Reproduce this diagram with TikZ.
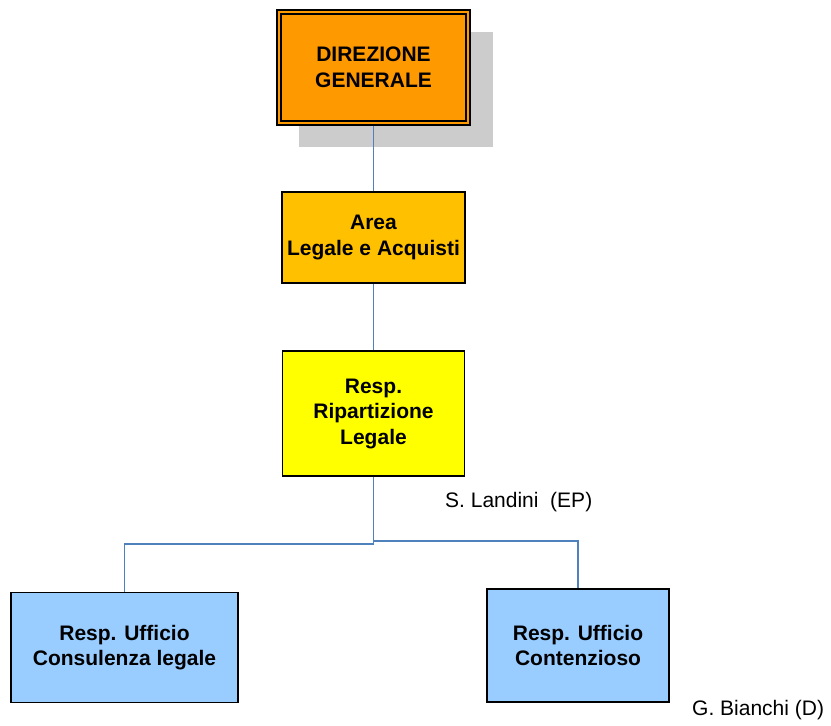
\documentclass[tikz,border=0pt]{standalone}
\usepackage{fontspec}
\setmainfont{Liberation Sans}
\definecolor{dgorange}{HTML}{FF9900}
\definecolor{areaorange}{HTML}{FFC000}
\definecolor{repyellow}{HTML}{FFFF00}
\definecolor{uffblue}{HTML}{99CCFF}
\definecolor{shadowgray}{HTML}{CCCCCC}
\definecolor{linkblue}{HTML}{4F81BD}
\begin{document}
\begin{tikzpicture}[x=1pt,y=-1pt,
  box/.style={draw=black, line width=1.6pt, inner sep=0pt, align=center,
    font=\fontsize{21}{25.5}\selectfont\bfseries},
  link/.style={draw=linkblue, line width=1.8pt},
  person/.style={inner sep=0pt, anchor=base west, font=\fontsize{21}{25}\selectfont}]
\useasboundingbox (0,0) rectangle (831,726);
% shadow
\fill[shadowgray] (299,32) rectangle (493,147);
% nodes
\node[box, fill=dgorange, line width=2pt, minimum width=193pt, minimum height=115pt] (dg) at (373.5,67.5) {DIREZIONE\\GENERALE};
\draw[line width=1.5pt] ([shift={(5,5)}]dg.north west) rectangle ([shift={(-5,-5)}]dg.south east);
\node[box, fill=areaorange, minimum width=183pt, minimum height=91pt] (area) at (373.5,237.5) {Area\\Legale e Acquisti};
\node[box, fill=repyellow, minimum width=182pt, minimum height=125pt] (rip) at (373.5,413.5) {Resp.\\Ripartizione\\Legale};
\node[box, fill=uffblue, minimum width=227pt, minimum height=110pt] (cons) at (124.5,647.5) {Resp. Ufficio\\Consulenza legale};
\node[box, fill=uffblue, minimum width=182pt, minimum height=113pt] (cont) at (578,645.5) {Resp. Ufficio\\Contenzioso};
% connectors
\coordinate (jl) at (373.5,544);
\coordinate (jr) at (373.5,541);
\draw[link] (dg.south) -- (area.north);
\draw[link] (area.south) -- (rip.north);
\draw[link] (rip.south) -- (jl) -| (cons.north);
\draw[link] (jr) -| (cont.north);
% names
\node[person] (landini) at (445,507) {S. Landini\ \ (EP)};
\node[person] (bianchi) at (692,715) {G. Bianchi (D)};
\end{tikzpicture}
\end{document}
